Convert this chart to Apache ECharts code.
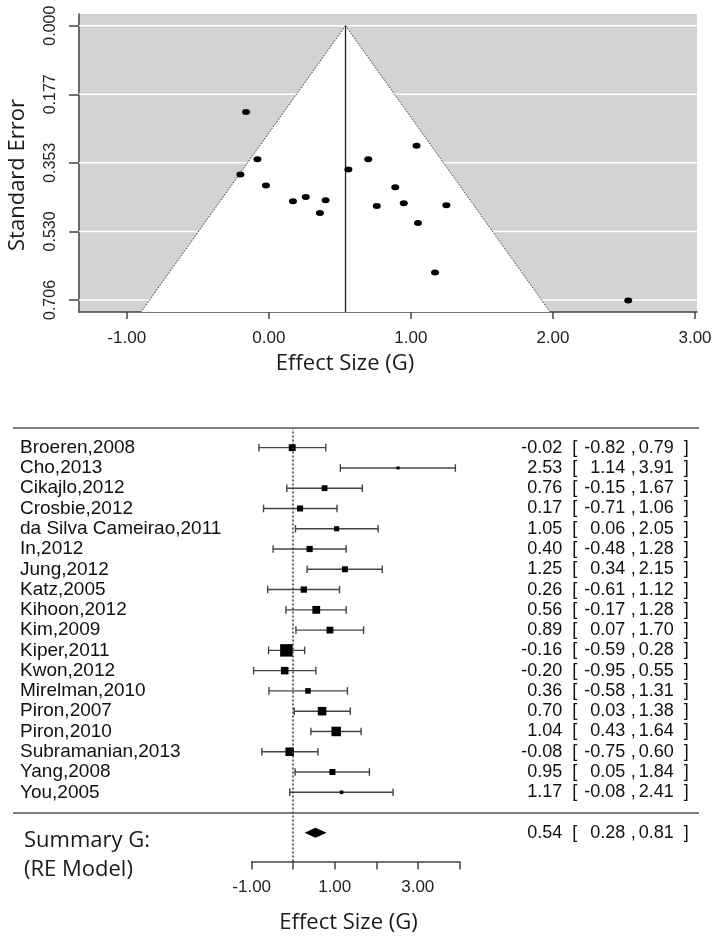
<!DOCTYPE html>
<html><head><meta charset="utf-8">
<script src="https://cdn.jsdelivr.net/npm/echarts@6/dist/echarts.min.js"></script>
<style>html,body{margin:0;padding:0;background:#fff}#c{width:717px;height:941px}</style>
</head><body><div id="c"></div>
<script>
// ---------- data ----------
const studies = ['Broeren,2008','Cho,2013','Cikajlo,2012','Crosbie,2012','da Silva Cameirao,2011','In,2012','Jung,2012','Katz,2005','Kihoon,2012','Kim,2009','Kiper,2011','Kwon,2012','Mirelman,2010','Piron,2007','Piron,2010','Subramanian,2013','Yang,2008','You,2005'];
const effect   = [-0.02, 2.53, 0.76, 0.17, 1.05, 0.40, 1.25, 0.26, 0.56, 0.89, -0.16, -0.20, 0.36, 0.70, 1.04, -0.08, 0.95, 1.17];
const ciLower  = [-0.82, 1.14, -0.15, -0.71, 0.06, -0.48, 0.34, -0.61, -0.17, 0.07, -0.59, -0.95, -0.58, 0.03, 0.43, -0.75, 0.05, -0.08];
const ciUpper  = [0.79, 3.91, 1.67, 1.06, 2.05, 1.28, 2.15, 1.12, 1.28, 1.70, 0.28, 0.55, 1.31, 1.38, 1.64, 0.60, 1.84, 2.41];
const stdError = [0.411, 0.707, 0.464, 0.452, 0.508, 0.449, 0.462, 0.441, 0.370, 0.416, 0.222, 0.383, 0.482, 0.344, 0.309, 0.344, 0.457, 0.635];
const weightPct = [5.7, 2.5, 4.8, 5.0, 4.2, 5.1, 4.9, 5.2, 6.4, 5.6, 10.2, 6.2, 4.6, 7.0, 7.8, 7.0, 4.9, 3.0];
const summaryValues = [0.54, 0.28, 0.81]; // estimate, lower, upper
const funnelBase = [-0.90, 1.98];          // funnel edges at the bottom of the plot
const funnelXTicks = [-1, 0, 1, 2, 3];
const seTicks = [0, 0.1765, 0.353, 0.5295, 0.706];
const seTickLabels = ['0.000', '0.177', '0.353', '0.530', '0.706'];
const forestTicks = [-1, 0, 1, 2, 3, 4];
const forestTickLabels = [-1, 1, 3];

// ---------- layout constants ----------
const SE_MIN = -0.0301, SE_MAX = 0.7369;
const ARIAL = '"Liberation Sans", Arial, sans-serif';
const CAL = '"Open Sans", "Liberation Sans", sans-serif';
const nStudies = studies.length;

const chart = echarts.init(document.getElementById('c'), null, {renderer: 'canvas'});

function fmt(v) { return v.toFixed(2); }
function annot(e, l, u) {
  return '{a|' + fmt(e) + '}{b|[}{c|' + fmt(l) + '}{d|,}{e|' + fmt(u) + '}{f|]}';
}
const annotRich = {
  a: {width: 52, align: 'right'},
  b: {width: 15, align: 'right'},
  c: {width: 48, align: 'right'},
  d: {width: 10.5, align: 'right'},
  e: {width: 38, align: 'right'},
  f: {width: 15, align: 'right'}
};
function sideOf(w) { return 3 + (w - 2.5) * 1.23; }

const funnelPoints = effect.map((e, i) => [e, stdError[i]]);
const forestData = studies.map((s, i) => [effect[i], nStudies - i, ciLower[i], ciUpper[i], weightPct[i], i]);

const option = {
  animation: false,
  backgroundColor: '#fff',
  grid: [
    {left: 79, top: 14, width: 618, height: 298, show: true, backgroundColor: '#d3d3d3', borderWidth: 0, outerBoundsMode: 'none'},
    {left: 13, top: 427.4, width: 686, height: 434.2, outerBoundsMode: 'none'},
    {left: 251.7, top: 811.6, width: 207.6, height: 50, outerBoundsMode: 'none'}
  ],
  xAxis: [
    {gridIndex: 0, type: 'value', min: -1.336, max: 3.014,
     axisLine: {show: true, onZero: false, lineStyle: {color: '#444', width: 1.5}},
     axisTick: {show: true, length: 7, customValues: funnelXTicks, lineStyle: {color: '#444', width: 1.5}},
     axisLabel: {show: true, customValues: funnelXTicks, formatter: v => fmt(v), margin: 18, fontSize: 17, fontFamily: ARIAL, color: '#222'},
     splitLine: {show: false}},
    {gridIndex: 1, type: 'value', min: -6.744, max: 9.778, show: false},
    {gridIndex: 2, type: 'value', min: -1, max: 4,
     axisLine: {show: true, onZero: false, lineStyle: {color: '#444', width: 1.5}},
     axisTick: {show: true, length: 8, customValues: forestTicks, lineStyle: {color: '#444', width: 1.5}},
     axisLabel: {show: true, customValues: forestTickLabels, formatter: v => fmt(v), margin: 17, fontSize: 17, fontFamily: ARIAL, color: '#222'},
     splitLine: {show: false}}
  ],
  yAxis: [
    {gridIndex: 0, type: 'value', inverse: true, min: SE_MIN, max: SE_MAX,
     axisLine: {show: true, onZero: false, lineStyle: {color: '#444', width: 1.5}},
     axisTick: {show: true, length: 10, customValues: seTicks, lineStyle: {color: '#444', width: 1.5}},
     axisLabel: {show: true, customValues: seTicks, rotate: 90, margin: 20, fontSize: 16, fontFamily: ARIAL, color: '#222',
       formatter: v => { const k = seTicks.findIndex(t => Math.abs(t - v) < 1e-6); return k >= 0 ? seTickLabels[k] : ''; }},
     splitLine: {show: false}},
    {gridIndex: 1, type: 'value', min: -2.42, max: 19, show: false},
    {gridIndex: 2, type: 'value', min: 0, max: 1, show: false}
  ],
  graphic: [
    {type: 'text', x: 18, y: 175, rotation: Math.PI / 2, style: {text: 'Standard Error', font: '22px ' + CAL, fill: '#1a1a1a', align: 'center', verticalAlign: 'middle'}},
    {type: 'text', x: 345, y: 364, style: {text: 'Effect Size (G)', font: '22px ' + CAL, fill: '#1a1a1a', align: 'center', verticalAlign: 'middle'}},
    {type: 'text', x: 24, y: 840.5, style: {text: 'Summary G:', font: '22px ' + CAL, fill: '#1a1a1a', align: 'left', verticalAlign: 'middle'}},
    {type: 'text', x: 24, y: 870, style: {text: '(RE Model)', font: '22px ' + CAL, fill: '#1a1a1a', align: 'left', verticalAlign: 'middle'}},
    {type: 'text', x: 348.5, y: 923, style: {text: 'Effect Size (G)', font: '22px ' + CAL, fill: '#1a1a1a', align: 'center', verticalAlign: 'middle'}}
  ],
  series: [
    // funnel background: gridlines, white funnel region, funnel lines
    {type: 'custom', xAxisIndex: 0, yAxisIndex: 0, z: 1, silent: true, clip: false,
     data: [[summaryValues[0], 0]],
     renderItem(params, api) {
       const cs = params.coordSys;
       const children = seTicks.map(t => {
         const y = api.coord([0, t])[1];
         return {type: 'line', shape: {x1: cs.x, y1: y, x2: cs.x + cs.width, y2: y}, style: {stroke: '#fff', lineWidth: 1.5}};
       });
       const apex = api.coord([summaryValues[0], 0]);
       const bl = api.coord([funnelBase[0], SE_MAX]);
       const br = api.coord([funnelBase[1], SE_MAX]);
       const bm = api.coord([summaryValues[0], SE_MAX]);
       children.push({type: 'polygon', shape: {points: [apex, bl, br]}, style: {fill: '#fff'}});
       children.push({type: 'line', shape: {x1: apex[0], y1: apex[1], x2: bl[0], y2: bl[1]}, style: {stroke: '#333', lineWidth: 1, lineDash: [1.5, 1.5]}});
       children.push({type: 'line', shape: {x1: apex[0], y1: apex[1], x2: br[0], y2: br[1]}, style: {stroke: '#333', lineWidth: 1, lineDash: [1.5, 1.5]}});
       children.push({type: 'line', shape: {x1: apex[0], y1: apex[1], x2: bm[0], y2: bm[1]}, style: {stroke: '#222', lineWidth: 1.3}});
       return {type: 'group', children};
     }},
    // funnel points
    {type: 'scatter', xAxisIndex: 0, yAxisIndex: 0, z: 3, silent: true,
     symbol: 'circle', symbolSize: [8, 6], itemStyle: {color: '#000', opacity: 1},
     data: funnelPoints},
    // forest rows
    {type: 'custom', xAxisIndex: 1, yAxisIndex: 1, z: 3, silent: true, clip: false,
     encode: {x: 0, y: 1},
     data: forestData,
     renderItem(params, api) {
       const cs = params.coordSys;
       const est = api.value(0), row = api.value(1), lo = api.value(2), hi = api.value(3), w = api.value(4), idx = api.value(5);
       const pE = api.coord([est, row]);
       const pL = api.coord([lo, row]);
       const pH = api.coord([hi, row]);
       const s = sideOf(w);
       const capH = 3.8;
       const ls = {stroke: '#444', lineWidth: 1.4};
       return {type: 'group', children: [
         {type: 'line', shape: {x1: pL[0], y1: pL[1], x2: pH[0], y2: pH[1]}, style: ls},
         {type: 'line', shape: {x1: pL[0], y1: pL[1] - capH, x2: pL[0], y2: pL[1] + capH}, style: ls},
         {type: 'line', shape: {x1: pH[0], y1: pH[1] - capH, x2: pH[0], y2: pH[1] + capH}, style: ls},
         {type: 'rect', shape: {x: pE[0] - s / 2, y: pE[1] - s / 2, width: s, height: s}, style: {fill: '#000'}},
         {type: 'text', x: cs.x + 7, y: pE[1], style: {text: studies[idx], font: '19px ' + ARIAL, fill: '#111', align: 'left', verticalAlign: 'middle'}},
         {type: 'text', x: cs.x + cs.width - 10.3, y: pE[1], style: {text: annot(effect[idx], ciLower[idx], ciUpper[idx]), rich: annotRich, font: '18px ' + ARIAL, fill: '#111', align: 'right', verticalAlign: 'middle'}}
       ]};
     },
     markLine: {silent: true, symbol: 'none', label: {show: false}, animation: false,
       data: [
         {xAxis: 0, lineStyle: {color: '#333', width: 1.5, type: [2, 2]}},
         {yAxis: nStudies + 1, lineStyle: {color: '#808080', width: 2, type: 'solid'}},
         {yAxis: 0, lineStyle: {color: '#555', width: 1.5, type: 'solid'}}
       ]}},
    // summary diamond
    {type: 'custom', xAxisIndex: 1, yAxisIndex: 1, z: 3, silent: true, clip: false,
     encode: {x: 0, y: 1},
     data: [[summaryValues[0], -1, summaryValues[1], summaryValues[2]]],
     renderItem(params, api) {
       const cs = params.coordSys;
       const pE = api.coord([api.value(0), api.value(1)]);
       const pL = api.coord([api.value(2), api.value(1)]);
       const pH = api.coord([api.value(3), api.value(1)]);
       const h = 5;
       return {type: 'group', children: [
         {type: 'polygon', shape: {points: [[pL[0], pL[1]], [pE[0], pE[1] - h], [pH[0], pH[1]], [pE[0], pE[1] + h]]}, style: {fill: '#000'}},
         {type: 'text', x: cs.x + cs.width - 10.3, y: pE[1], style: {text: annot(summaryValues[0], summaryValues[1], summaryValues[2]), rich: annotRich, font: '18px ' + ARIAL, fill: '#111', align: 'right', verticalAlign: 'middle'}}
       ]};
     }},
    // forest axis carrier
    {type: 'scatter', xAxisIndex: 2, yAxisIndex: 2, data: [], silent: true}
  ]
};
chart.setOption(option);
</script>
</body></html>
